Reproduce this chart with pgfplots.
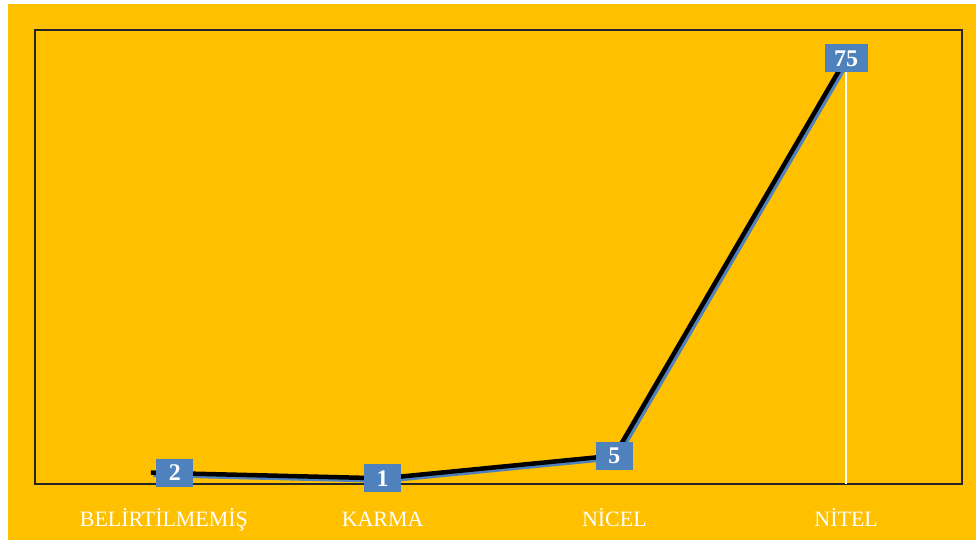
\documentclass[border=0pt]{standalone}
\usepackage{fontspec}
\setmainfont{Liberation Serif}
\usepackage{pgfplots}
\pgfplotsset{compat=1.18}
\definecolor{bgorange}{HTML}{FFC000}
\definecolor{lblue}{HTML}{4F81BD}
\tikzset{lblstyle/.style={fill=lblue, text=white, font=\bfseries\fontsize{24}{28}\selectfont, anchor=center, inner xsep=9.5bp, inner ysep=0pt, minimum height=28bp, minimum width=37bp}}
\begin{document}
\begin{tikzpicture}
\fill[white] (-35bp,-56bp) rectangle (941bp,484bp);
\fill[bgorange] (-27bp,-56bp) rectangle (941bp,480bp);
\begin{axis}[at={(0,0)}, anchor=south west, scale only axis,
  width=927bp, height=454bp,
  xmin=-0.5, xmax=3.5, ymin=0, ymax=80,
  ytick=\empty, xtick={0,1,2,3},
  xticklabels={\hspace*{26bp}BELİRTİLMEMİŞ,KARMA,NİCEL,NİTEL},
  major tick length=0,
  axis line style={black!85, line width=1.8bp},
  xticklabel style={font=\fontsize{22}{26}\selectfont, text=white, anchor=base, yshift=-42bp},
  clip=false]
\addplot[white, line width=2bp, ycomb, forget plot] coordinates {(3,75)};
\addplot[lblue, line width=4bp, line join=round, xshift=2.5bp, yshift=-2.5bp] coordinates {(0,2) (1,1) (2,5) (3,75)};
\addplot[black, line width=4.5bp, line join=round] coordinates {(0,2) (1,1) (2,5) (3,75)};
\addplot[draw=none, nodes near coords, point meta=explicit symbolic,
  every node near coord/.style={lblstyle}] table[meta=l] {
x y l
1 1 1
2 5 5
3 75 75
};
\addplot[draw=none, nodes near coords, point meta=explicit symbolic,
  every node near coord/.style={lblstyle, xshift=24bp}] table[meta=l] {
x y l
0 2 2
};
\end{axis}
\end{tikzpicture}
\end{document}
